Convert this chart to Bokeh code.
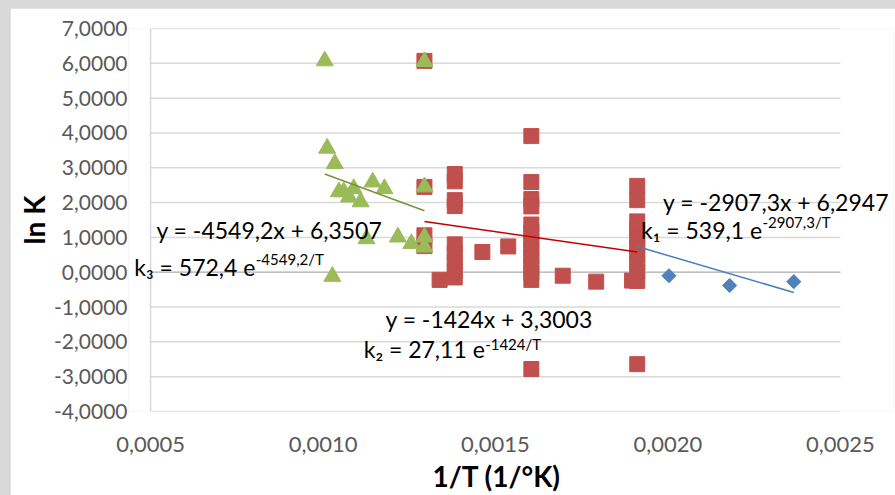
import numpy as np
from bokeh.plotting import figure
from bokeh.models import FixedTicker, CustomJSTickFormatter, Label, Title
from bokeh.embed import file_html
from bokeh.resources import INLINE

# Series 1 (blue diamonds): 1/T and ln K
s1_x = [0.001911, 0.002003, 0.002179, 0.002365]
s1_y = [0.74, -0.10, -0.38, -0.27]

# Series 2 (red squares)
s2_x = [0.001294, 0.001294, 0.001294, 0.001294,
        0.001338,
        0.001382, 0.001382, 0.001382, 0.001382, 0.001382, 0.001382, 0.001382, 0.001382, 0.001382,
        0.001462, 0.001537,
        0.001604, 0.001604, 0.001604, 0.001604, 0.001604, 0.001604, 0.001604, 0.001604,
        0.001604, 0.001604, 0.001604, 0.001604, 0.001604,
        0.001695, 0.001792, 0.001896,
        0.001911, 0.001911, 0.001911, 0.001911, 0.001911, 0.001911, 0.001911, 0.001911,
        0.001911, 0.001911, 0.001911]
s2_y = [6.07, 2.45, 1.06, 0.75,
        -0.22,
        2.82, 2.61, 2.07, 1.90, 0.80, 0.55, 0.30, 0.05, -0.15,
        0.58, 0.74,
        3.91, 2.59, 2.10, 1.89, 1.37, 1.14, 0.91, 0.68,
        0.45, 0.22, -0.01, -0.22, -2.78,
        -0.10, -0.27, -0.24,
        2.48, 2.07, 1.46, 1.22, 0.98, 0.74, 0.50, 0.26,
        0.02, -0.25, -2.64]

# Series 3 (green triangles)
s3_x = [0.001005, 0.001012, 0.001034, 0.001046, 0.001060, 0.001075, 0.001089,
        0.001109, 0.001144, 0.001178, 0.001294, 0.001294, 0.001126, 0.001217,
        0.001256, 0.001294, 0.001294, 0.001027]
s3_y = [6.07, 3.56, 3.12, 2.31, 2.31, 2.16, 2.40,
        2.02, 2.59, 2.40, 6.05, 2.45, 0.96, 1.01,
        0.82, 1.01, 0.72, -0.12]

# Linear trendlines (slope, intercept) of ln K against 1/T
fit1 = (-2907.3, 6.2947)
fit2 = (-1424.0, 3.3003)
fit3 = (-3660.0, 6.50)

x_ticks = [0.0005, 0.0010, 0.0015, 0.0020, 0.0025]
y_ticks = [-4, -3, -2, -1, 0, 1, 2, 3, 4, 5, 6, 7]

BLUE, RED, GREEN = "#4F81BD", "#C0504D", "#9BBB59"
FONT = "Lato"
X0, X1 = x_ticks[0], x_ticks[-1]

# the frame reaches a little past the axis extent so the equation texts
# beside the plot area stay visible
p = figure(frame_width=765, frame_height=383, output_backend="svg", toolbar_location=None,
           x_range=(0.000436, 0.002654), y_range=(-4, 7),
           min_border_left=118, min_border_right=2, min_border_top=20,
           min_border_bottom=84, margin=(8, 0, 0, 10),
           background_fill_color="white", border_fill_color="white")
p.outline_line_color = None

fmt = CustomJSTickFormatter(code="return tick.toFixed(4).replace('.', ',');")

p.xaxis.ticker = FixedTicker(ticks=x_ticks)
p.yaxis.ticker = FixedTicker(ticks=y_ticks)
p.xaxis.formatter = fmt
p.yaxis.formatter = fmt
for ax in (p.xaxis, p.yaxis):
    ax.major_tick_line_color = None
    ax.minor_tick_line_color = None
    ax.major_tick_out = 0
    ax.major_tick_in = 0
    ax.minor_tick_out = 0
    ax.minor_tick_in = 0
    ax.axis_line_color = None
    ax.major_label_text_font = FONT
    ax.major_label_text_font_size = "22px"
    ax.major_label_text_color = "#595959"
    ax.axis_label_text_font = FONT
    ax.axis_label_text_font_style = "bold"
    ax.axis_label_text_font_size = "28px"
    ax.axis_label_text_color = "black"
p.yaxis.major_label_text_font_size = "21px"
p.xaxis.major_label_standoff = 25
p.yaxis.major_label_standoff = 1
p.yaxis.axis_label = "ln K"
p.yaxis.axis_label_standoff = 0

p.add_layout(Title(text="1/T (1/°K)", align="left", offset=304, text_font=FONT,
                   text_font_size="28px", text_font_style="bold",
                   text_color="black", standoff=5), "below")

p.xgrid.grid_line_color = None
p.ygrid.grid_line_color = None

# horizontal gridlines, value axis and the category axis crossing at zero
p.segment(x0=[X0] * len(y_ticks), x1=[X1] * len(y_ticks), y0=y_ticks, y1=y_ticks,
          line_color="#d9d9d9", line_width=1.5)
p.segment(x0=[X0], x1=[X0], y0=[y_ticks[0]], y1=[y_ticks[-1]],
          line_color="#d9d9d9", line_width=1.5)
p.segment(x0=[X0], x1=[X1], y0=[0], y1=[0], line_color="#bfbfbf", line_width=1.5)

p.scatter(s1_x, s1_y, marker="square", size=10, angle=np.pi / 4,
          fill_color=BLUE, line_color=BLUE)
p.scatter(s2_x, s2_y, marker="square", size=15, fill_color=RED, line_color=RED)
p.scatter(s3_x, s3_y, marker="triangle", size=17, fill_color=GREEN, line_color=GREEN)


def trend(xs, fit):
    xx = np.array([min(xs), max(xs)])
    return xx, fit[0] * xx + fit[1]


for xs, fit, col in ((s3_x, fit3, "#77933C"), (s2_x, fit2, "#C00000"), (s1_x, fit1, "#4A7EBB")):
    tx, ty = trend(xs, fit)
    p.line(tx, ty, line_color=col, line_width=1.5)


def label(x, y, text, size, align="left"):
    p.add_layout(Label(x=x, y=y, text=text, text_font=FONT, text_font_size=size,
                       text_align=align, text_baseline="middle", text_color="black"))


BIG, SUP = "23px", "15px"
label(0.001986, 2.02, "y = -2907,3x + 6,2947", BIG)
label(0.002273, 1.20, "k\u2081 = 539,1 e", BIG, "right")
label(0.002274, 1.44, "-2907,3/T", SUP)

label(0.000517, 1.20, "y = -4549,2x + 6,3507", BIG)
label(0.000804, 0.144, "k\u2083 = 572,4 e", BIG, "right")
label(0.000805, 0.366, "-4549,2/T", SUP)

label(0.001181, -1.343, "y = -1424x + 3,3003", BIG)
label(0.001469, -2.207, "k\u2082 = 27,11 e", BIG, "right")
label(0.001470, -2.063, "-1424/T", SUP)

html = file_html(p, INLINE)
html = html.replace("<head>", "<head><style>html, body { background: #d9d9d9; margin: 0; }</style>", 1)
open("out.html", "w").write(html)
